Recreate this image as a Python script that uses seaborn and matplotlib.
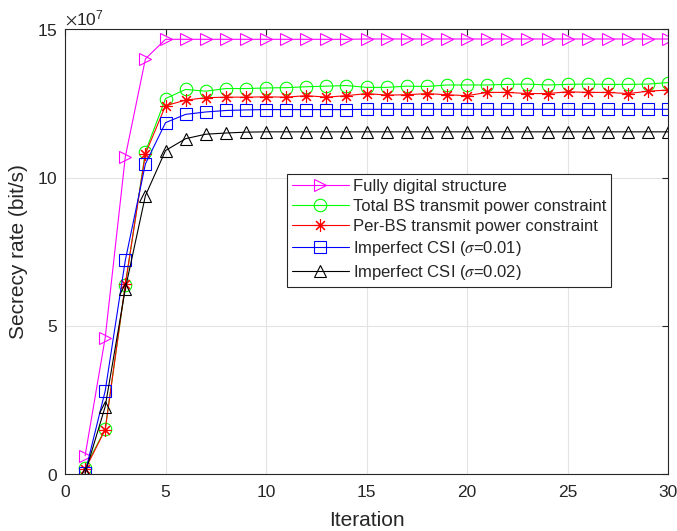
import matplotlib
matplotlib.use('Agg')
import matplotlib.pyplot as plt
import seaborn as sbn
import pandas as pd

# secrecy rate values, in units of 1e7 bit/s
iterations = list(range(1, 31))
fully_digital = [0.62, 4.6, 10.7, 14.0, 14.66, 14.66, 14.66, 14.66, 14.66, 14.66,
                 14.66, 14.66, 14.66, 14.66, 14.67, 14.67, 14.67, 14.67, 14.67, 14.67,
                 14.67, 14.67, 14.67, 14.67, 14.67, 14.67, 14.67, 14.67, 14.67, 14.67]
total_bs = [0.22, 1.52, 6.37, 10.87, 12.66, 12.97, 12.91, 13.0, 13.0, 13.02,
            13.03, 13.06, 13.08, 13.1, 13.04, 13.04, 13.08, 13.07, 13.12, 13.12,
            13.12, 13.14, 13.15, 13.12, 13.14, 13.15, 13.14, 13.14, 13.15, 13.2]
per_bs = [0.16, 1.5, 6.4, 10.8, 12.42, 12.61, 12.69, 12.71, 12.71, 12.72,
          12.71, 12.76, 12.71, 12.76, 12.83, 12.78, 12.79, 12.83, 12.79, 12.76,
          12.87, 12.87, 12.83, 12.83, 12.89, 12.87, 12.87, 12.83, 12.91, 12.95]
csi_001 = [0.05, 2.81, 7.21, 10.46, 11.85, 12.13, 12.21, 12.26, 12.28, 12.29,
           12.29, 12.29, 12.29, 12.29, 12.3, 12.3, 12.3, 12.3, 12.3, 12.3,
           12.3, 12.3, 12.3, 12.3, 12.3, 12.3, 12.3, 12.3, 12.3, 12.3]
csi_002 = [0.03, 2.28, 6.25, 9.39, 10.91, 11.31, 11.46, 11.5, 11.53, 11.54,
           11.54, 11.54, 11.54, 11.54, 11.54, 11.54, 11.54, 11.54, 11.54, 11.54,
           11.54, 11.54, 11.54, 11.54, 11.54, 11.54, 11.54, 11.54, 11.54, 11.54]

series = [
    ('Fully digital structure', fully_digital, '#ff00ff', '>'),
    ('Total BS transmit power constraint', total_bs, '#00ff00', 'o'),
    ('Per-BS transmit power constraint', per_bs, '#ff0000', (8, 2, 0)),
    (r'Imperfect CSI ($\sigma$=0.01)', csi_001, '#0000ff', 's'),
    (r'Imperfect CSI ($\sigma$=0.02)', csi_002, '#000000', '^'),
]

sbn.set_style('whitegrid')
plt.rcParams['font.family'] = ['Liberation Sans', 'DejaVu Sans']
plt.rcParams['mathtext.fontset'] = 'stix'

fig = plt.figure(figsize=(6.77, 5.31), dpi=100)
ax = fig.add_axes([0.096, 0.107, 0.891, 0.838])

for name, values, color, marker in series:
    df = pd.DataFrame({'Iteration': iterations, 'rate': [v * 1e7 for v in values]})
    sbn.lineplot(data=df, x='Iteration', y='rate', ax=ax, label=name,
                 color=color, marker=marker, markersize=9, linewidth=0.8,
                 markerfacecolor='none', markeredgecolor=color, markeredgewidth=0.8)

ax.set_xlim(0, 30)
ax.set_ylim(0, 1.5e8)
ax.set_xticks([0, 5, 10, 15, 20, 25, 30])
ax.set_yticks([0, 5e7, 1e8, 1.5e8])
ax.ticklabel_format(axis='y', style='sci', scilimits=(7, 7), useMathText=True)
ax.yaxis.get_offset_text().set_fontsize(12.5)
ax.yaxis.get_offset_text().set_color('#262626')

ax.set_xlabel('Iteration', fontsize=15, color='#262626', labelpad=8)
ax.set_ylabel('Secrecy rate (bit/s)', fontsize=15, color='#262626', labelpad=7)
ax.tick_params(direction='in', top=True, right=True, length=4, width=0.8,
               labelsize=12.5, colors='#262626')
ax.tick_params(axis='x', pad=8)
ax.tick_params(axis='y', pad=5)
ax.grid(color='#e3e3e3', linestyle='-', linewidth=0.8)
for spine in ax.spines.values():
    spine.set_color('#262626')
    spine.set_linewidth(0.8)

leg = ax.legend(loc='lower left', bbox_to_anchor=(0.368, 0.421), borderaxespad=0,
                fontsize=12, frameon=True, fancybox=False, framealpha=1,
                edgecolor='#262626', handlelength=3.4, borderpad=0.3,
                labelspacing=0.3, handletextpad=0.25)
leg.get_frame().set_linewidth(0.8)

fig.savefig('out.png', dpi=100)
